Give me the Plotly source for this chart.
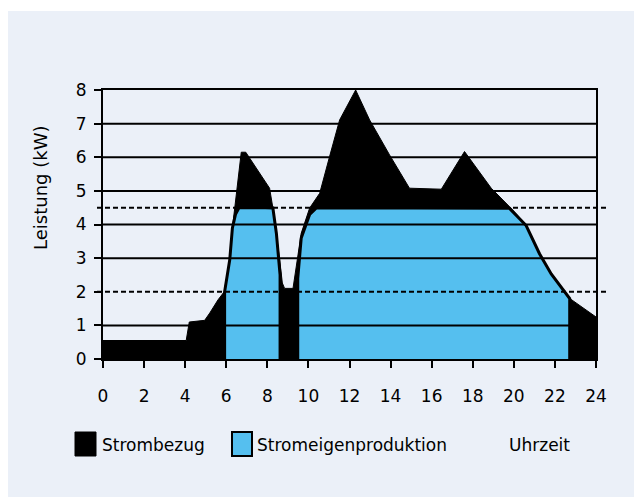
import plotly.graph_objects as go

# Strombezug (Gesamtbedarf) über den Tag, kW
stunden_bedarf = [0, 4.05, 4.2, 4.95, 5.2, 5.6, 5.9, 6.17, 6.3, 6.49, 6.73, 6.95, 7.3, 7.79,
                  8.11, 8.27, 8.44, 8.6, 8.73, 8.84, 9.25, 9.41, 9.65, 10.06, 10.55, 11.03,
                  11.52, 12.3, 12.98, 13.95, 14.92, 16.47, 17.6, 18.9, 19.79, 20.6, 21.25,
                  21.82, 22.7, 24]
leistung_bedarf = [0.55, 0.55, 1.1, 1.15, 1.37, 1.76, 2.0, 2.95, 3.9, 4.93, 6.15, 6.15, 5.82, 5.38,
                   5.08, 4.49, 3.74, 2.95, 2.26, 2.1, 2.1, 2.75, 3.74, 4.49, 4.93, 6.02,
                   7.11, 8.0, 7.11, 6.07, 5.08, 5.05, 6.17, 5.08, 4.53, 3.99, 3.15,
                   2.55, 1.81, 1.25]

# Stromeigenproduktion (zwei Blöcke), kW
stunden_prod_1 = [5.92, 5.92, 6.17, 6.3, 6.45, 6.62, 7.9, 8.11, 8.27, 8.44, 8.62, 8.62]
leistung_prod_1 = [0, 2.0, 2.95, 3.9, 4.3, 4.5, 4.5, 4.5, 4.49, 3.74, 2.5, 0]
stunden_prod_2 = [9.48, 9.48, 9.65, 10.06, 10.4, 19.4, 19.79, 20.6, 21.25, 21.82, 22.72, 22.72]
leistung_prod_2 = [0, 2.4, 3.6, 4.3, 4.5, 4.5, 4.48, 3.97, 3.13, 2.53, 1.8, 0]

gitter_solid = [1, 3, 4, 5, 6, 7]
gitter_gestrichelt = [2, 4.5]

FONT = "DejaVu Sans, sans-serif"
BLAU = "#55BFEF"
PANEL = "#EBF0F8"

# Plotbereich in Pixeln (für Annotationen in Papierkoordinaten)
L, T, W, H = 95, 82, 493, 269


def px_x(p):
    return (p - L) / W


def px_y(p):
    return (T + H - p) / H


fig = go.Figure()

fig.add_trace(go.Scatter(
    x=stunden_bedarf, y=leistung_bedarf, mode="lines",
    fill="tozeroy", fillcolor="black", line=dict(color="black", width=1),
    hoverinfo="skip", showlegend=False,
))
for xs, ys in [(stunden_prod_1, leistung_prod_1), (stunden_prod_2, leistung_prod_2)]:
    fig.add_trace(go.Scatter(
        x=xs, y=ys, mode="lines", fill="toself", fillcolor=BLAU,
        line=dict(color="black", width=3), hoverinfo="skip", showlegend=False,
    ))

# weißer Streifen oben
fig.add_shape(type="rect", xref="paper", yref="paper", x0=px_x(-5), x1=px_x(650),
              y0=px_y(3), y1=px_y(-5), fillcolor="white", line_width=0, layer="below")

# Gitterlinien über den Flächen
for g in gitter_solid:
    fig.add_shape(type="line", xref="x", yref="y", x0=0, x1=24, y0=g, y1=g,
                  line=dict(color="black", width=2), layer="above")
for g in gitter_gestrichelt:
    fig.add_shape(type="line", xref="paper", yref="y", x0=px_x(89), x1=px_x(600), y0=g, y1=g,
                  line=dict(color="black", width=2, dash="5px,3px"), layer="above")

# Legende
fig.add_shape(type="rect", xref="paper", yref="paper", x0=px_x(67), x1=px_x(88),
              y0=px_y(448), y1=px_y(424), fillcolor="black", line=dict(color="black", width=1))
fig.add_shape(type="rect", xref="paper", yref="paper", x0=px_x(224), x1=px_x(244),
              y0=px_y(448), y1=px_y(424), fillcolor=BLAU, line=dict(color="black", width=2))
for txt, px in [("Strombezug", 92), ("Stromeigenproduktion", 247), ("Uhrzeit", 499)]:
    fig.add_annotation(text=txt, xref="paper", yref="paper", x=px_x(px),
                       y=px_y(437), xanchor="left", yanchor="middle",
                       showarrow=False, font=dict(family=FONT, size=17, color="black"))

fig.add_annotation(text="Leistung (kW)", xref="paper", yref="paper",
                   x=px_x(32), y=px_y(180), textangle=-90,
                   xanchor="center", yanchor="middle", showarrow=False,
                   font=dict(family=FONT, size=18, color="black"))

fig.update_layout(
    width=642, height=497,
    margin=dict(l=L, r=642 - L - W, t=T, b=497 - T - H),
    paper_bgcolor=PANEL, plot_bgcolor="rgba(0,0,0,0)",
    font=dict(family=FONT, size=17, color="black"),
    xaxis=dict(range=[0, 24], tickmode="array", tickvals=list(range(0, 25, 2)),
               ticks="outside", ticklen=7, tickwidth=2, tickcolor="black",
               ticklabelstandoff=14,
               showline=True, linecolor="black", linewidth=2, mirror=True,
               showgrid=False, zeroline=False, fixedrange=True),
    yaxis=dict(range=[0, 8], tickmode="array", tickvals=list(range(0, 9)),
               ticks="outside", ticklen=7, tickwidth=2, tickcolor="black",
               ticklabelstandoff=4,
               showline=True, linecolor="black", linewidth=2, mirror=True,
               showgrid=False, zeroline=False, fixedrange=True),
    showlegend=False,
)

fig.write_html("out.html")
